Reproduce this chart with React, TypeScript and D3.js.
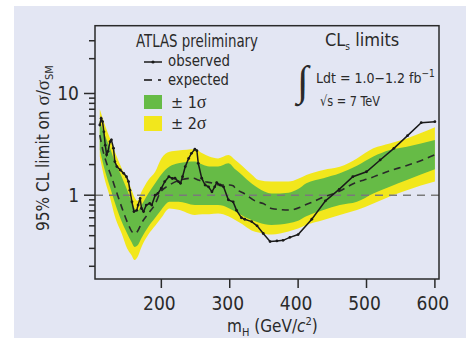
import React from "react";
import * as d3 from "d3";

// ---- data ----
const bandMass = [110,118,125,132,142,150,156,161,165,171,181,191,200,212,225,249,260,270,283,298,308,318,332,342,361,386,400,412,437,461,486,510,534,559,600];
const band2Hi = [7.0,4.8,3.6,2.68,1.84,1.42,1.15,0.95,0.88,1.08,1.41,1.70,2.3,2.68,2.75,2.83,2.58,2.4,2.3,2.48,2.22,1.95,1.6,1.41,1.36,1.36,1.45,1.58,1.77,1.9,2.3,2.89,3.23,3.62,4.65];
const band1Hi = [5.3,3.8,2.9,2.14,1.52,1.13,0.88,0.74,0.70,0.80,1.04,1.31,1.6,1.91,2.06,2.14,2.0,1.91,1.91,2.06,1.8,1.58,1.3,1.17,1.04,1.06,1.15,1.31,1.47,1.64,1.95,2.4,2.78,3.0,3.48];
const band1Lo = [2.8,1.7,1.2,0.85,0.55,0.42,0.35,0.31,0.32,0.38,0.49,0.6,0.72,0.86,0.86,0.8,0.8,0.8,0.8,0.75,0.69,0.63,0.57,0.54,0.51,0.53,0.56,0.62,0.715,0.8,0.86,1.04,1.21,1.41,1.8];
const band2Lo = [2.4,1.36,0.95,0.62,0.42,0.3,0.26,0.23,0.245,0.31,0.41,0.5,0.6,0.74,0.72,0.64,0.65,0.65,0.66,0.62,0.57,0.52,0.45,0.43,0.41,0.44,0.47,0.51,0.57,0.64,0.715,0.83,0.97,1.12,1.36];

const expMass = [110,115,120,127,134,144,152,158,162,165,171,181,191,198,212,227,247,254,276,286,300,305,308,320,340,349,361,388,403,410,422,437,456,461,483,505,515,532,559,584,600];
const expVal = [3.9,2.68,2.06,1.52,1.1,0.7,0.51,0.43,0.42,0.44,0.53,0.66,0.82,1.05,1.26,1.41,1.47,1.41,1.31,1.26,1.26,1.24,1.17,1.05,0.86,0.83,0.74,0.715,0.76,0.8,0.86,0.96,1.06,1.1,1.32,1.47,1.56,1.72,1.96,2.25,2.5];

const obsMass = [110,112,114,116,118,120,122,125,127,130,132,135,140,145,149,152,154,157,160,164,166,169,171,174,178,183,186,191,195,200,205,211,216,220,225,228,231,235,240,244,249,252,254,259,264,269,274,278,281,286,291,298,305,310,317,322,332,340,349,359,369,378,388,400,420,440,460,480,500,520,540,560,580,600];
const obsVal = [4.9,5.7,5.3,4.2,3.1,2.5,2.7,3.36,3.5,2.9,2.14,1.91,1.77,1.64,1.52,1.36,1.12,0.86,0.69,0.71,0.8,0.93,0.74,0.69,0.8,0.83,0.8,1.0,1.04,1.17,1.36,1.52,1.46,1.47,1.36,1.31,1.52,1.91,2.3,2.58,2.83,2.74,2.06,1.47,1.26,1.21,1.08,1.21,1.33,1.26,1.21,0.9,0.86,0.71,0.6,0.58,0.55,0.5,0.42,0.35,0.355,0.36,0.385,0.41,0.58,0.88,1.14,1.52,1.70,2.22,2.89,3.85,5.16,5.28];

const xTicks = [200, 300, 400, 500, 600];
const yMajor = [1, 10];
const yMinor = [0.2,0.3,0.4,0.5,0.6,0.7,0.8,0.9,2,3,4,5,6,7,8,9,22,33];

const FONT = '"DejaVu Sans Condensed", "Liberation Sans Narrow", "Liberation Sans", sans-serif';
const SERIF = '"Liberation Serif", "DejaVu Serif", serif';
const GREEN = "#66bb46";
const YELLOW = "#f2e71c";
const INK = "#2a2a2a";

export default function App() {
  const L = 95, R = 439, T = 25.7, B = 279;
  const x = d3.scaleLinear().domain([103, 606]).range([L, R]);
  const y = d3.scaleLog().domain([0.15, 46.4]).range([B, T]);

  const idx = bandMass.map((_, i) => i);
  const area = (lo: number[], hi: number[]) =>
    d3.area<number>()
      .x((i) => x(bandMass[i]))
      .y0((i) => y(lo[i]))
      .y1((i) => y(hi[i]))
      .curve(d3.curveMonotoneX)(idx) as string;

  const expLine = d3.line<number>()
    .x((i) => x(expMass[i]))
    .y((i) => y(expVal[i]))
    .curve(d3.curveMonotoneX)(expMass.map((_, i) => i)) as string;

  const obsLine = d3.line<number>()
    .x((i) => x(obsMass[i]))
    .y((i) => y(obsVal[i]))(obsMass.map((_, i) => i)) as string;

  const fit = { lengthAdjust: "spacingAndGlyphs" as const };

  return (
    <svg width={466} height={338} style={{ position: "absolute", left: 0, top: 0 }}>
      <rect x={0} y={0} width={466} height={338} fill="#ffffff" />
      <rect x={14} y={6} width={452} height={332} fill="#e3e6f3" />
      <defs>
        <clipPath id="plotclip">
          <rect x={L} y={T} width={R - L} height={B - T} />
        </clipPath>
      </defs>
      <g clipPath="url(#plotclip)">
        <path d={area(band2Lo, band2Hi)} fill={YELLOW} />
        <path d={area(band1Lo, band1Hi)} fill={GREEN} />
        <line x1={L} x2={R} y1={y(1)} y2={y(1)} stroke="#7a7a7a" strokeWidth={1.5} strokeDasharray="8,6" />
        <path d={expLine} fill="none" stroke={INK} strokeWidth={1.6} strokeDasharray="7,5" />
        <path d={obsLine} fill="none" stroke="#1a1a1a" strokeWidth={1.5} />
        {obsMass.map((m, i) => (
          <circle key={i} cx={x(m)} cy={y(obsVal[i])} r={1.4} fill="#1a1a1a" />
        ))}
      </g>
      {/* frame */}
      <rect x={L} y={T} width={R - L} height={B - T} fill="none" stroke={INK} strokeWidth={1.5} />
      {/* y ticks */}
      {yMajor.map((v) => (
        <g key={"ym" + v}>
          <line x1={L - 11} x2={L} y1={y(v)} y2={y(v)} stroke={INK} strokeWidth={1.5} />
          <text x={L - 16} y={y(v) + 7} textAnchor="end" fontFamily={FONT} fontSize={19} fill={INK}>{v}</text>
        </g>
      ))}
      {yMinor.map((v) => (
        <line key={"yn" + v} x1={L - 6} x2={L} y1={y(v)} y2={y(v)} stroke={INK} strokeWidth={1.5} />
      ))}
      {/* x ticks */}
      {xTicks.map((v) => (
        <g key={"x" + v}>
          <line x1={x(v)} x2={x(v)} y1={B} y2={B + 9} stroke={INK} strokeWidth={1.5} />
          <text x={x(v) - 2} y={310} textAnchor="middle" fontFamily={FONT} fontSize={19} fill={INK}>{v}</text>
        </g>
      ))}
      {/* axis titles */}
      <text x={227} y={332} fontFamily={FONT} fontSize={17} fill={INK}>
        m<tspan fontSize={11} dy={4}>H</tspan>
        <tspan dy={-4}> (GeV/</tspan><tspan fontStyle="italic">c</tspan>
        <tspan fontSize={11} dy={-7}>2</tspan><tspan dy={7}>)</tspan>
      </text>
      <text transform="translate(49,148) rotate(-90)" textAnchor="middle" fontFamily={FONT} fontSize={17} fill={INK}>
        95% CL limit on <tspan fontFamily={SERIF} fontSize={19}>σ</tspan>/<tspan fontFamily={SERIF} fontSize={19}>σ</tspan>
        <tspan fontSize={11} dy={4}>SM</tspan>
      </text>
      {/* legend */}
      <text x={136} y={47} fontFamily={FONT} fontSize={18} fill={INK} textLength={122} {...fit}>ATLAS preliminary</text>
      <line x1={144} x2={162} y1={62} y2={62} stroke="#1a1a1a" strokeWidth={1.5} />
      <circle cx={153} cy={62} r={1.6} fill="#1a1a1a" />
      <text x={168} y={66} fontFamily={FONT} fontSize={15.5} fill={INK} textLength={62} {...fit}>observed</text>
      <line x1={144} x2={152} y1={80} y2={80} stroke="#1a1a1a" strokeWidth={1.6} />
      <line x1={158} x2={161} y1={80} y2={80} stroke="#1a1a1a" strokeWidth={1.6} />
      <text x={168} y={85} fontFamily={FONT} fontSize={15.5} fill={INK} textLength={61} {...fit}>expected</text>
      <rect x={144} y={95} width={18} height={14} fill={GREEN} />
      <rect x={144} y={116} width={18} height={15} fill={YELLOW} />
      <text x={171} y={108} fontFamily={FONT} fontSize={16} fill={INK}>± 1<tspan fontFamily={SERIF} fontSize={18}>σ</tspan></text>
      <text x={171} y={129} fontFamily={FONT} fontSize={16} fill={INK}>± 2<tspan fontFamily={SERIF} fontSize={18}>σ</tspan></text>
      {/* right texts */}
      <text x={325} y={46} fontFamily={FONT} fontSize={18} fill={INK}>
        CL<tspan fontSize={10} dy={4}>s</tspan><tspan dy={-4}> limits</tspan>
      </text>
      <text x={297} y={95} fontFamily={SERIF} fontSize={42} fill={INK}>∫</text>
      <text x={316} y={83} fontFamily={FONT} fontSize={14} fill={INK}>
        Ldt = 1.0−1.2 fb<tspan fontSize={10} dy={-6}>−1</tspan>
      </text>
      <text x={320} y={106} fontFamily={FONT} fontSize={14} fill={INK} textLength={60} {...fit}>√s = 7 TeV</text>
    </svg>
  );
}
